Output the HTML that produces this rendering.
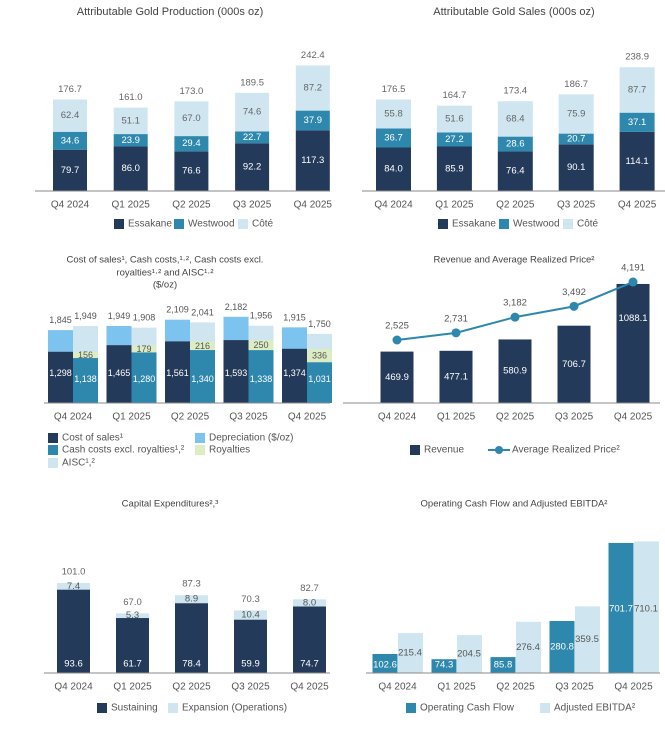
<!DOCTYPE html>
<html><head><meta charset="utf-8"><style>
html,body{margin:0;padding:0;background:#fff;}
svg{display:block;font-family:"Liberation Sans",sans-serif;}
</style></head><body>
<svg id="root" width="665" height="729" viewBox="0 0 665 729"></svg>
<script>
const quarters=["Q4 2024","Q1 2025","Q2 2025","Q3 2025","Q4 2025"];
// Production
const prodEss=[79.7,86.0,76.6,92.2,117.3];
const prodWest=[34.6,23.9,29.4,22.7,37.9];
const prodCote=[62.4,51.1,67.0,74.6,87.2];
const prodTot=[176.7,161.0,173.0,189.5,242.4];
// Sales
const salesEss=[84.0,85.9,76.4,90.1,114.1];
const salesWest=[36.7,27.2,28.6,20.7,37.1];
const salesCote=[55.8,51.6,68.4,75.9,87.7];
const salesTot=[176.5,164.7,173.4,186.7,238.9];
// Costs
const costSales=[1298,1465,1561,1593,1374];
const costTotal=[1845,1949,2109,2182,1915];
const cashCost=[1138,1280,1340,1338,1031];
const royalties=[156,179,216,250,336];
const aisc=[1949,1908,2041,1956,1750];
// Revenue
const revenue=[469.9,477.1,580.9,706.7,1088.1];
const price=[2525,2731,3182,3492,4191];
// Capex
const capSust=[93.6,61.7,78.4,59.9,74.7];
const capExp=[7.4,5.3,8.9,10.4,8.0];
const capTot=[101.0,67.0,87.3,70.3,82.7];
// OCF / EBITDA
const ocf=[102.6,74.3,85.8,280.8,701.7];
const ebitda=[215.4,204.5,276.4,359.5,710.1];

const NAVY="#243a5a",TEAL="#2e87ad",LIGHT="#cfe6f0",DEP="#7cc3f0",ROY="#dcedc4",TXT="#555";
const root=document.getElementById('root');
const NS="http://www.w3.org/2000/svg";
function mk(tag,attrs,parent){const e=document.createElementNS(NS,tag);for(const k in attrs)e.setAttribute(k,attrs[k]);(parent||root).appendChild(e);return e;}
function grp(name){const g=mk('g',{});


return g;}
function txt(g,x,y,s,size,fill,name,anchor){const t=mk('text',{x:x,y:y,'font-size':size,fill:fill,'text-anchor':anchor||'middle','dominant-baseline':'central'},g);t.textContent=s;


return t;}
function bar(g,x,y,w,h,fill,name){const r=mk('rect',{x:x,y:y,width:w,height:Math.max(0,h),fill:fill},g);


return r;}
function axis(g,x1,x2,y){const l=mk('line',{x1:x1,x2:x2,y1:y,y2:y,stroke:'#8a8a8a','stroke-width':1},g);

}
function cats(g,cx,y){quarters.forEach((q,i)=>txt(g,cx(i),y,q,10,TXT,'x-tick-label'));}
function legendSq(g,x,y,c,label,name){bar(g,x,y-5,10,10,c,name+'-swatch');txt(g,x+14,y,label,10,TXT,name,'start');}

// ---- Stacked 3-part charts
function stack3(name,title,titleX,x0,step,w,axisX1,axisX2,a,b,c,tot,legX){
 const g=grp(name);const base=191,sc=0.518;
 const cx=i=>x0+step*i;const y=v=>base-v*sc;
 txt(g,titleX,12,title,11,'#444','chart-title');
 quarters.forEach((q,i)=>{
  let y0=base;
  const h1=a[i]*sc,h2=b[i]*sc,h3=c[i]*sc;
  bar(g,cx(i)-w/2,y0-h1,w,h1,NAVY,'bar-essakane');txt(g,cx(i),y0-h1/2,a[i].toFixed(1),9.5,'#fff','value-label');y0-=h1;
  bar(g,cx(i)-w/2,y0-h2,w,h2,TEAL,'bar-westwood');txt(g,cx(i),y0-h2/2,b[i].toFixed(1),9.5,'#fff','value-label');y0-=h2;
  bar(g,cx(i)-w/2,y0-h3,w,h3,LIGHT,'bar-cote');txt(g,cx(i),y0-h3/2,c[i].toFixed(1),9.5,'#666','value-label');
  txt(g,cx(i),y(tot[i])-10,tot[i].toFixed(1),9.5,'#666','total-label');
 });
 axis(g,axisX1,axisX2,base);cats(g,cx,205);
 legendSq(g,legX[0],224,NAVY,'Essakane','legend-essakane');
 legendSq(g,legX[1],224,TEAL,'Westwood','legend-westwood');
 legendSq(g,legX[2],224,LIGHT,'Côté','legend-cote');
}
stack3('production-chart','Attributable Gold Production (000s oz)',170,70,60.7,34,35,330,prodEss,prodWest,prodCote,prodTot,[114,174,238]);
stack3('sales-chart','Attributable Gold Sales (000s oz)',514,393.5,60.9,35,362,665,salesEss,salesWest,salesCote,salesTot,[438,499,563]);

// ---- Cost chart
(function(){
 const g=grp('cost-chart');const base=403,sc=0.0395;const cx=i=>73+58.5*i;const w=25;
 txt(g,165,260,'Cost of sales¹, Cash costs,¹·², Cash costs excl.',9.5,'#444','chart-title');
 txt(g,165,273,'royalties¹·² and AISC¹·²',9.5,'#444','chart-title');
 txt(g,165,285,'($/oz)',9.5,'#444','chart-title');
 quarters.forEach((q,i)=>{
  const x1=cx(i)-w,x2=cx(i);
  const hc=costSales[i]*sc,ht=costTotal[i]*sc;
  bar(g,x1,base-ht,w,ht-hc,DEP,'bar-depreciation');
  bar(g,x1,base-hc,w,hc,NAVY,'bar-cost-of-sales');
  txt(g,x1+w/2,base-30,costSales[i].toLocaleString('en-US'),9,'#fff','value-label');
  txt(g,x1+w/2,base-ht-10,costTotal[i].toLocaleString('en-US'),9,'#555','total-label');
  const h1=cashCost[i]*sc,h2=royalties[i]*sc,ha=aisc[i]*sc;
  bar(g,x2,base-ha,w,ha,LIGHT,'bar-aisc');
  bar(g,x2,base-h1-h2,w,h2,ROY,'bar-royalties');
  bar(g,x2,base-h1,w,h1,TEAL,'bar-cash-costs');
  txt(g,x2+w/2,base-h1-h2/2,royalties[i],9,'#555','value-label');
  txt(g,x2+w/2,base-24,cashCost[i].toLocaleString('en-US'),9,'#fff','value-label');
  txt(g,x2+w/2,base-ha-10,aisc[i].toLocaleString('en-US'),9,'#555','total-label');
 });
 axis(g,44,330,base);cats(g,cx,417);
 legendSq(g,48,438,NAVY,'Cost of sales¹','legend-cost-of-sales');
 legendSq(g,48,450,TEAL,'Cash costs excl. royalties¹,²','legend-cash-costs');
 legendSq(g,48,463,LIGHT,'AISC¹,²','legend-aisc');
 legendSq(g,195,438,DEP,'Depreciation ($/oz)','legend-depreciation');
 legendSq(g,195,450,ROY,'Royalties','legend-royalties');
})();

// ---- Revenue chart
(function(){
 const g=grp('revenue-chart');const base=403,sc=0.1094;const cx=i=>397+59*i;const w=33;
 const py=v=>340-(v-2525)*0.0348;
 txt(g,514,260,'Revenue and Average Realized Price²',9.5,'#444','chart-title');
 quarters.forEach((q,i)=>{const h=revenue[i]*sc;
  bar(g,cx(i)-w/2,base-h,w,h,NAVY,'bar-revenue');
  txt(g,cx(i),Math.max(base-h+18,base-h/2+ (i===4?-25:0)),revenue[i].toFixed(1),9.5,'#fff','value-label');});
 const pts=price.map((v,i)=>cx(i)+','+py(v)).join(' ');
 const pl=mk('polyline',{points:pts,fill:'none',stroke:TEAL,'stroke-width':2},g);
 
 
 price.forEach((v,i)=>{const c=mk('circle',{cx:cx(i),cy:py(v),r:4.5,fill:TEAL},g);
  
  
  txt(g,cx(i),py(v)-14,v.toLocaleString('en-US'),9.5,'#555','price-label');});
 axis(g,343,660,base);cats(g,cx,417);
 legendSq(g,410,450,NAVY,'Revenue','legend-revenue');
 const ll=mk('line',{x1:488,x2:510,y1:450,y2:450,stroke:TEAL,'stroke-width':2},g);
 
 
 const lc=mk('circle',{cx:499,cy:450,r:4,fill:TEAL},g);
 
 
 txt(g,512,450,'Average Realized Price²',10,TXT,'legend-price','start');
})();

// ---- Capex
(function(){
 const g=grp('capex-chart');const base=673,sc=0.891;const cx=i=>73.5+59*i;const w=33;
 txt(g,170,504,'Capital Expenditures²,³',9.5,'#444','chart-title');
 quarters.forEach((q,i)=>{const hs=capSust[i]*sc,he=capExp[i]*sc;
  bar(g,cx(i)-w/2,base-hs,w,hs,NAVY,'bar-sustaining');
  bar(g,cx(i)-w/2,base-hs-he,w,he,LIGHT,'bar-expansion');
  txt(g,cx(i),base-9,capSust[i].toFixed(1),9.5,'#fff','value-label');
  txt(g,cx(i),base-hs-he/2,capExp[i].toFixed(1),9.5,'#555','value-label');
  txt(g,cx(i),base-capTot[i]*sc-11,capTot[i].toFixed(1),9.5,'#666','total-label');});
 axis(g,44,330,base);cats(g,cx,687);
 legendSq(g,97,708,NAVY,'Sustaining','legend-sustaining');
 legendSq(g,168,708,LIGHT,'Expansion (Operations)','legend-expansion');
})();

// ---- OCF / EBITDA
(function(){
 const g=grp('ocf-ebitda-chart');const base=673,sc=0.1853;const cx=i=>397.5+59*i;const w=25;
 txt(g,514,504,'Operating Cash Flow and Adjusted EBITDA²',9.5,'#444','chart-title');
 quarters.forEach((q,i)=>{const h1=ocf[i]*sc,h2=ebitda[i]*sc;
  bar(g,cx(i)-w,base-h1,w,h1,TEAL,'bar-ocf');
  bar(g,cx(i)+0.5,base-h2,w,h2,LIGHT,'bar-ebitda');
  txt(g,cx(i)-w/2,i===4?base-64:(i===3?base-h1/2:base-8),ocf[i].toFixed(1),9.5,'#fff','value-label');
  txt(g,cx(i)+w/2,i===4?base-64:base-h2/2,ebitda[i].toFixed(1),9.5,'#555','value-label');});
 axis(g,366,660,base);cats(g,cx,687);
 legendSq(g,406,708,TEAL,'Operating Cash Flow','legend-ocf');
 legendSq(g,540,708,LIGHT,'Adjusted EBITDA²','legend-ebitda');
})();
</script>
</body></html>
